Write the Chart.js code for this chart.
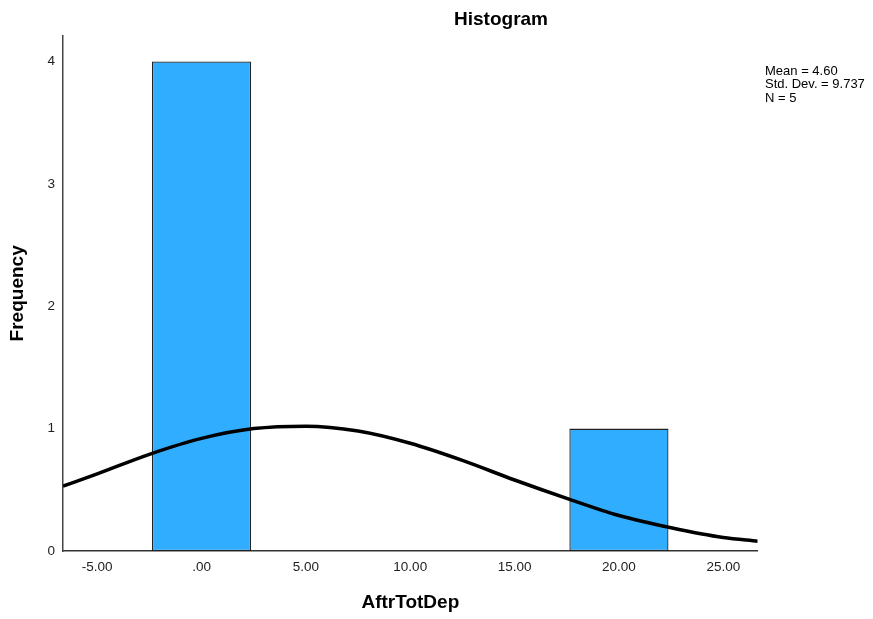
<!DOCTYPE html>
<html>
<head>
<meta charset="utf-8">
<script src="https://cdn.jsdelivr.net/npm/chart.js@4/dist/chart.umd.min.js"></script>
<style>
  html, body { margin: 0; padding: 0; background: #fff; }
  #wrap { width: 873px; height: 619px; }
</style>
</head>
<body>
<div id="wrap"><canvas id="histChart" width="873" height="619"></canvas></div>
<script>
// Datos
const binCenters = [0, 5, 10, 15, 20];
const frequencies = [4, 0, 0, 0, 1];

// Curva normal
const curveX = [-6.64, -5, -2.5, 0, 2.5, 5, 7.5, 10, 12.5, 15, 17.5, 20, 22.5, 25, 26.65];
const curveY = [0.53, 0.63, 0.79, 0.92, 1.00, 1.02, 0.98, 0.88, 0.74, 0.58, 0.43, 0.29, 0.19, 0.11, 0.08];

const xTicks = [-5, 0, 5, 10, 15, 20, 25];
const yTicks = [0, 1, 2, 3, 4];
const statsLines = ["Mean = 4.60", "Std. Dev. = 9.737", "N = 5"];

const FONT = "Arial, 'Liberation Sans', sans-serif";

// Texto del título y de las estadísticas
const textPlugin = {
  id: "textos",
  afterDraw(chart) {
    const ctx = chart.ctx;
    ctx.save();
    ctx.fillStyle = "#000";
    ctx.font = "bold 19px " + FONT;
    ctx.textAlign = "center";
    ctx.textBaseline = "middle";
    ctx.fillText("Histogram", 501, 20);

    ctx.font = "13px " + FONT;
    ctx.textAlign = "left";
    ctx.textBaseline = "middle";
    statsLines.forEach((line, i) => {
      ctx.fillText(line, 765, 71 + i * 13.5);
    });
    ctx.restore();
  }
};

const ctx = document.getElementById("histChart").getContext("2d");
new Chart(ctx, {
  data: {
    datasets: [
      {
        type: "line",
        data: curveX.map((x, i) => ({ x: x, y: curveY[i] })),
        borderColor: "#000",
        borderWidth: 3.5,
        pointRadius: 0,
        cubicInterpolationMode: "monotone",
        fill: false,
        order: 1
      },
      {
        type: "bar",
        data: binCenters.map((x, i) => ({ x: x, y: frequencies[i] })),
        backgroundColor: "#30adff",
        borderColor: "#222",
        borderWidth: 1.3,
        borderSkipped: false,
        categoryPercentage: 1,
        barPercentage: 0.95,
        order: 2
      }
    ]
  },
  options: {
    responsive: false,
    animation: false,
    layout: { padding: { top: 35.7, right: 115.3, bottom: 0, left: 0 } },
    plugins: {
      legend: { display: false },
      title: { display: false },
      tooltip: { enabled: false }
    },
    scales: {
      x: {
        type: "linear",
        offset: false,
        min: -6.64,
        max: 26.65,
        grid: { display: false, drawTicks: false, offset: false },
        border: { display: true, color: "#333", width: 1.5 },
        afterBuildTicks: scale => {
          scale.ticks = xTicks.map(v => ({ value: v }));
        },
        afterFit: scale => { scale.height = 68; },
        ticks: {
          color: "#222",
          padding: 8,
          maxRotation: 0,
          font: { family: FONT, size: 13.5 },
          callback: v => {
            const s = Number(v).toFixed(2);
            return s.replace(/^0\./, ".");
          }
        },
        title: {
          display: true,
          text: "AftrTotDep",
          color: "#000",
          font: { family: FONT, size: 19, weight: "bold" },
          padding: { top: 0, bottom: 5 }
        }
      },
      y: {
        type: "linear",
        min: 0,
        max: 4.21,
        grid: { display: false, drawTicks: false },
        border: { display: true, color: "#444", width: 1.5 },
        afterBuildTicks: scale => {
          scale.ticks = yTicks.map(v => ({ value: v }));
        },
        afterFit: scale => { scale.width = 63; },
        ticks: {
          color: "#222",
          padding: 8,
          font: { family: FONT, size: 13.5 }
        },
        title: {
          display: true,
          text: "Frequency",
          color: "#000",
          font: { family: FONT, size: 19, weight: "bold" },
          padding: { top: 6, bottom: 0 }
        }
      }
    }
  },
  plugins: [textPlugin]
});
</script>
</body>
</html>
